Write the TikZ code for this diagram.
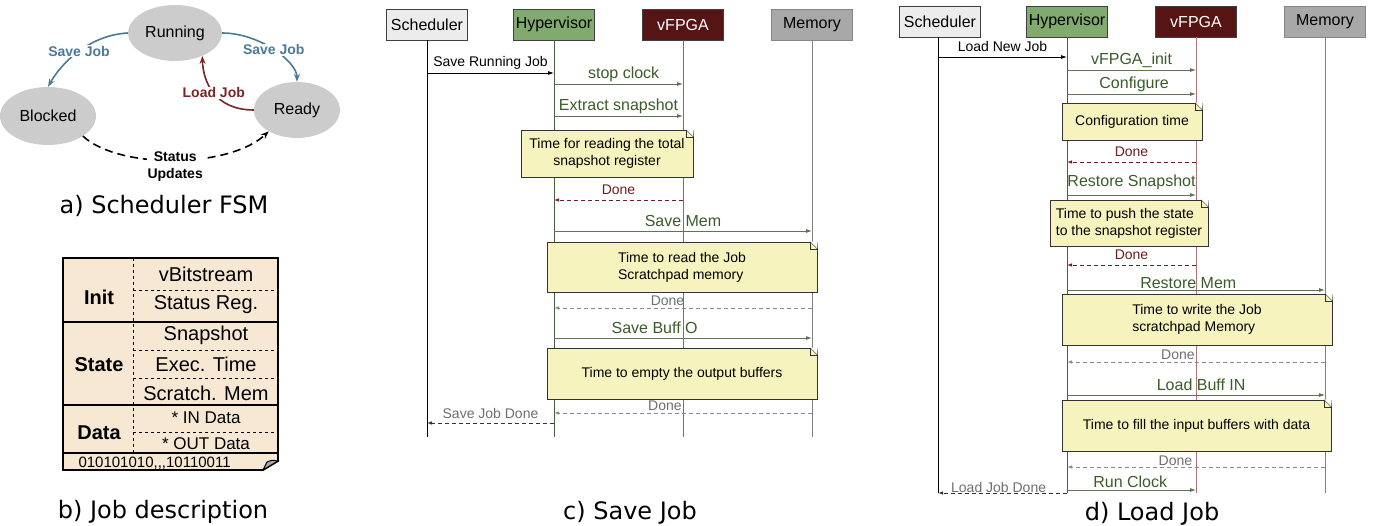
\documentclass[tikz,border=0pt]{standalone}
\usepackage{fontspec}
\setmainfont{Liberation Sans}
\newfontfamily\capfont{DejaVu Sans}
\usepackage{tikz}
\usetikzlibrary{shapes.geometric, arrows.meta, positioning}
\definecolor{saveblue}{RGB}{74,122,150}
\definecolor{loadred}{RGB}{122,38,38}
\definecolor{stategray}{RGB}{204,204,204}
\definecolor{jobfill}{RGB}{247,232,212}
\definecolor{schedgray}{RGB}{236,236,236}
\definecolor{hypgreen}{RGB}{129,170,111}
\definecolor{fpgared}{RGB}{86,20,20}
\definecolor{memgray}{RGB}{168,168,168}
\definecolor{notefill}{RGB}{246,243,190}
\definecolor{msggreen}{RGB}{58,92,40}
\definecolor{msgline}{RGB}{95,115,85}
\definecolor{donered}{RGB}{110,30,30}
\definecolor{donegray}{RGB}{110,110,110}
\tikzset{
    state/.style={ellipse, fill=stategray, minimum width=86pt, minimum height=56pt, font=\fontsize{16}{19}\selectfont},
    fsmlabel/.style={font=\bfseries\fontsize{14}{17}\selectfont, fill=white, inner sep=1pt},
    fsmarrow/.style={-{Stealth[length=8pt,width=6pt]}, line width=1.6pt},
    jobhead/.style={font=\bfseries\fontsize{20}{23}\selectfont},
    jobitem/.style={font=\fontsize{20}{23}\selectfont},
    actor/.style={rectangle, draw=black!75, minimum width=81pt, minimum height=31pt, inner sep=0pt, font=\fontsize{16}{19}\selectfont},
    lifeline/.style={line width=0.8pt},
    note/.style={rectangle, draw=black!80, fill=notefill, inner sep=0pt, align=left, font=\fontsize{14}{17}\selectfont},
    msg/.style={-{Latex[length=6pt,width=4pt]}, color=msgline, line width=0.8pt},
    reply/.style={-{Latex[length=5pt,width=3.5pt]}, dashed, dash pattern=on 4pt off 3pt, line width=0.8pt},
    msglabel/.style={inner sep=0pt, yshift=10pt, text=msggreen, font=\fontsize{16}{19}\selectfont},
    smalllabel/.style={inner sep=0pt, yshift=10pt, font=\fontsize{14}{17}\selectfont},
    caption/.style={anchor=base, font=\capfont\fontsize{24}{28}\selectfont}
}
\newcommand{\notefold}[1]{%
    \fill[white] ([xshift=-7pt]#1.north east) -- ([xshift=0.5pt,yshift=0.5pt]#1.north east) -- ([yshift=-7pt]#1.north east) -- cycle;
    \draw[black!80] ([xshift=-7pt]#1.north east) -- ([yshift=-7pt]#1.north east);
    \draw[black!80] ([xshift=-7pt]#1.north east) -- ([xshift=-7pt,yshift=-7pt]#1.north east) -- ([yshift=-7pt]#1.north east);
}

\begin{document}
\begin{tikzpicture}[x=1pt, y=-1pt]
    \useasboundingbox (0,0) rectangle (1375,526);

    % a) Scheduler FSM
    \node[state] (run) at (175,33) {Running};
    \node[state, minimum width=96pt, minimum height=58pt] (blk) at (48,116) {Blocked};
    \node[state] (rdy) at (297,110) {Ready};

    \draw[fsmarrow, color=saveblue] (run.west) .. controls (90,35) and (62,62) .. (blk.north)
        node[pos=.5, fsmlabel, text=saveblue] {Save Job};
    \draw[fsmarrow, color=saveblue] (run.east) .. controls (260,33) and (297,62) .. (rdy.north)
        node[pos=.5, fsmlabel, text=saveblue] {Save Job};
    \draw[fsmarrow, color=loadred] (rdy.west) .. controls (215,110) and (203,82) .. (run.-40)
        node[pos=.5, fsmlabel, text=loadred] {Load Job};
    \draw[fsmarrow, dashed, dash pattern=on 8pt off 5pt] (blk.-30) .. controls (120,170) and (230,168) .. (rdy.-143)
        node[pos=.5, fsmlabel, align=center, yshift=-6pt] {Status\\Updates};

    \node[caption] (capa) at (164,214) {a) Scheduler FSM};

    % b) Job description
    \filldraw[fill=jobfill, line width=1.8pt] (63,258) -- (278,258) -- (278,461) -- (263,470) -- (63,470) -- cycle;
    \filldraw[fill=gray!70, line width=1pt] (278,461) .. controls (272,460) .. (267,462) -- (263,470) -- cycle;
    \draw[line width=1.2pt] (63,322) -- (278,322);
    \draw[line width=1.2pt] (63,405) -- (278,405);
    \draw[line width=1.2pt] (63,453) -- (278,453);
    \draw[dashed, line width=0.9pt] (133,258) -- (133,453);
    \foreach \y in {290,350,378,432}
        \draw[dashed, line width=0.9pt] (133,\y) -- (278,\y);

    \node[jobhead] (init) at (99,297) {Init};
    \node[jobhead] (state) at (99,365) {State};
    \node[jobhead] (data) at (99,433) {Data};
    \node[jobitem] (vbit) at (206,274) {vBitstream};
    \node[jobitem] (sreg) at (206,305) {Status Reg.};
    \node[jobitem] (snap) at (206,335) {Snapshot};
    \node[jobitem] (exec) at (206,364) {Exec. Time};
    \node[jobitem] (scr) at (206,393) {Scratch. Mem};
    \node[jobitem, font=\fontsize{17}{20}\selectfont] (indata) at (206,418) {* IN Data};
    \node[jobitem, font=\fontsize{17}{20}\selectfont] (outdata) at (206,444) {* OUT Data};
    \node[anchor=west, font=\fontsize{15}{18}\selectfont] (bits) at (75,463) {010101010,{},{},10110011};

    \node[caption] (capb) at (163,518) {b) Job description};

    % c) Save Job
    \node[actor, fill=schedgray] (sc) at (427,24.5) {Scheduler};
    \node[actor, fill=hypgreen] (hc) at (554,24.5) {Hypervisor};
    \node[actor, fill=fpgared, text=white] (fc) at (683,24.5) {vFPGA};
    \node[actor, fill=memgray, draw=memgray!80!black] (mc) at (812,24.5) {Memory};

    \draw[lifeline] (sc) -- (sc |- 0,437);
    \draw[lifeline, color=msgline!80!black] (hc) -- (hc |- 0,437);
    \draw[lifeline, color=donered!70] (fc) -- (fc |- 0,437);
    \draw[lifeline, color=gray] (mc) -- (mc |- 0,437);

    \draw[msg, color=black] (sc |- 0,73) -- node[smalllabel, pos=.5] {Save Running Job} (hc |- 0,73);
    \draw[msg] (hc |- 0,84) -- node[msglabel, pos=.54] {stop clock} (fc |- 0,84);
    \draw[msg] (hc |- 0,116) -- node[msglabel, pos=.5] {Extract snapshot} (fc |- 0,116);
    \node[note, align=center, minimum width=172pt, minimum height=47pt] (n1) at (607,153.5) {Time for reading the total\\snapshot register};
    \notefold{n1}
    \draw[reply, color=donered] (fc |- 0,200) -- node[smalllabel, pos=.5, text=donered] {Done} (hc |- 0,200);
    \draw[msg] (hc |- 0,231) -- node[msglabel, pos=.5] {Save Mem} (mc |- 0,231);
    \node[note, minimum width=270pt, minimum height=50pt] (n2) at (682,267) {Time to read the Job\\Scratchpad memory};
    \notefold{n2}
    \draw[reply, color=donegray!80] (mc |- 0,308) -- node[smalllabel, pos=.56, yshift=-3pt, text=donegray] {Done} (hc |- 0,308);
    \draw[msg] (hc |- 0,338) -- node[msglabel, pos=.39] {Save Buff O} (mc |- 0,338);
    \node[note, minimum width=270pt, minimum height=51pt] (n3) at (682,373.5) {Time to empty the output buffers};
    \notefold{n3}
    \draw[reply, color=donegray!80] (mc |- 0,413) -- node[smalllabel, pos=.57, yshift=-3pt, text=donegray] {Done} (hc |- 0,413);
    \draw[reply, color=black!80] (hc |- 0,423) -- node[smalllabel, pos=.5, text=donegray] {Save Job Done} (sc |- 0,423);

    \node[caption] (capc) at (630,519) {c) Save Job};

    % d) Load Job
    \node[actor, fill=schedgray] (sd) at (940,21.5) {Scheduler};
    \node[actor, fill=hypgreen] (hd) at (1067,21.5) {Hypervisor};
    \node[actor, fill=fpgared, text=white] (fd) at (1196,21.5) {vFPGA};
    \node[actor, fill=memgray, draw=memgray!80!black] (md) at (1325,21.5) {Memory};

    \draw[lifeline] (sd.south -| 938,0) -- (938,493);
    \draw[lifeline, color=msgline!80!black] (hd) -- (hd |- 0,493);
    \draw[lifeline, color=donered!60] (fd) -- (fd |- 0,493);
    \draw[lifeline, color=gray] (md) -- (md |- 0,493);

    \draw[msg, color=black] (938,57) -- node[smalllabel, pos=.5] {Load New Job} (hd |- 0,57);
    \draw[msg] (hd |- 0,70) -- node[msglabel, pos=.5] {vFPGA\_init} (fd |- 0,70);
    \draw[msg] (hd |- 0,94) -- node[msglabel, pos=.52] {Configure} (fd |- 0,94);
    \node[note, minimum width=140pt, minimum height=37pt] (n4) at (1132,121.5) {Configuration time};
    \notefold{n4}
    \draw[reply, color=donered] (fd |- 0,162) -- node[smalllabel, pos=.5, text=donered] {Done} (hd |- 0,162);
    \draw[msg] (hd |- 0,195) -- node[msglabel, pos=.5, yshift=3pt] {Restore Snapshot} (fd |- 0,195);
    \node[note, minimum width=158pt, minimum height=46pt] (n5) at (1129,223) {Time to push the state\\to the snapshot register};
    \notefold{n5}
    \draw[reply, color=donered] (fd |- 0,265) -- node[smalllabel, pos=.5, text=donered] {Done} (hd |- 0,265);
    \draw[msg] (hd |- 0,290) -- node[msglabel, pos=.47, yshift=-3pt] {Restore Mem} (md |- 0,290);
    \node[note, minimum width=270pt, minimum height=51pt] (n6) at (1197,319.5) {Time to write the Job\\scratchpad Memory};
    \notefold{n6}
    \draw[reply, color=donegray!80] (md |- 0,362) -- node[smalllabel, pos=.57, yshift=-3pt, text=donegray] {Done} (hd |- 0,362);
    \draw[msg] (hd |- 0,395) -- node[msglabel, pos=.52] {Load Buff IN} (md |- 0,395);
    \node[note, minimum width=269pt, minimum height=51pt] (n7) at (1196.5,425.5) {Time to fill the input buffers with data};
    \notefold{n7}
    \draw[reply, color=donegray!80] (md |- 0,467) -- node[smalllabel, pos=.58, yshift=-4pt, text=donegray] {Done} (hd |- 0,467);
    \draw[msg] (hd |- 0,490) -- node[msglabel, pos=.49, yshift=-2pt] {Run Clock} (fd |- 0,490);
    \draw[reply, color=black!80] (hd |- 0,493) -- node[smalllabel, pos=.53, yshift=-4pt, text=donegray] {Load Job Done} (938,493);

    \node[caption] (capd) at (1152,520) {d) Load Job};

\end{tikzpicture}
\end{document}
